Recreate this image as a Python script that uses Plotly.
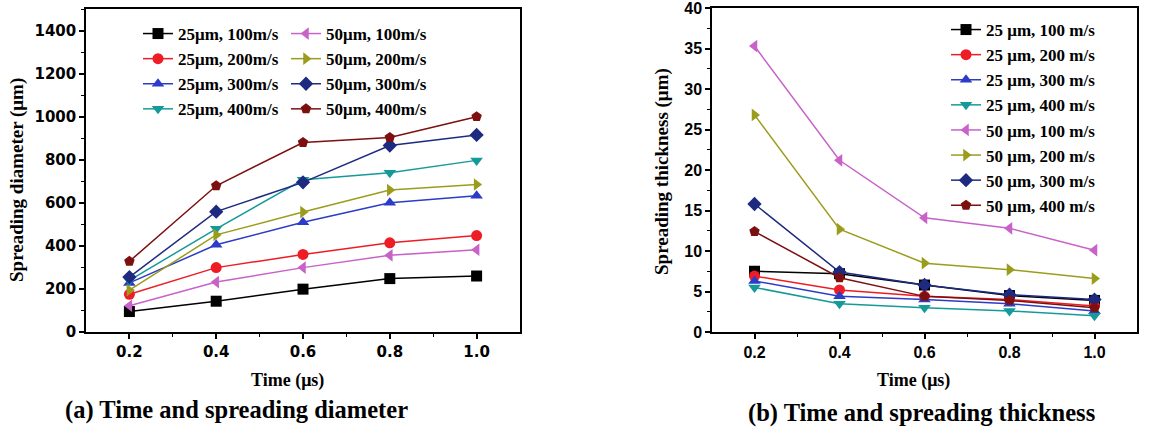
import plotly.graph_objects as go

time_us = [0.2, 0.4, 0.6, 0.8, 1.0]
time_labels = ["0.2", "0.4", "0.6", "0.8", "1.0"]

labels_a = ["25μm, 100m/s", "25μm, 200m/s", "25μm, 300m/s", "25μm, 400m/s",
            "50μm, 100m/s", "50μm, 200m/s", "50μm, 300m/s", "50μm, 400m/s"]
labels_b = ["25 μm, 100 m/s", "25 μm, 200 m/s", "25 μm, 300 m/s", "25 μm, 400 m/s",
            "50 μm, 100 m/s", "50 μm, 200 m/s", "50 μm, 300 m/s", "50 μm, 400 m/s"]

# (a) spreading diameter (μm)
diam_25_100 = [95, 143, 199, 248, 260]
diam_25_200 = [175, 299, 360, 414, 448]
diam_25_300 = [228, 405, 510, 600, 633]
diam_25_400 = [240, 479, 707, 740, 797]
diam_50_100 = [122, 232, 299, 356, 382]
diam_50_200 = [194, 451, 557, 659, 685]
diam_50_300 = [255, 559, 695, 866, 915]
diam_50_400 = [328, 679, 880, 903, 1000]

# (b) spreading thickness (μm)
thk_25_100 = [7.5, 7.2, 5.8, 4.5, 3.9]
thk_25_200 = [6.9, 5.2, 4.4, 4.0, 3.2]
thk_25_300 = [6.3, 4.4, 4.0, 3.5, 2.6]
thk_25_400 = [5.5, 3.5, 3.0, 2.6, 2.0]
thk_50_100 = [35.3, 21.2, 14.1, 12.8, 10.1]
thk_50_200 = [26.8, 12.7, 8.5, 7.7, 6.6]
thk_50_300 = [15.8, 7.4, 5.8, 4.6, 4.0]
thk_50_400 = [12.4, 6.7, 4.4, 3.9, 3.0]

diam_ticks = [0, 200, 400, 600, 800, 1000, 1200, 1400]
thk_ticks = [0, 5, 10, 15, 20, 25, 30, 35, 40]

diam = [diam_25_100, diam_25_200, diam_25_300, diam_25_400,
        diam_50_100, diam_50_200, diam_50_300, diam_50_400]
thk = [thk_25_100, thk_25_200, thk_25_300, thk_25_400,
       thk_50_100, thk_50_200, thk_50_300, thk_50_400]

colors = ["#000000", "#ee1c24", "#2a3cc8", "#159a9a", "#c862c8", "#9c9c1c", "#1e2a80", "#7c1010"]
symbols = ["square", "circle", "triangle-up", "triangle-down",
           "triangle-left", "triangle-right", "diamond", "pentagon"]

W, H = 1155, 434
def px(x):
    return x / W
def py(y):
    return 1 - y / H

serif = "Liberation Serif"

fig = go.Figure()

for i in range(8):
    fig.add_trace(go.Scatter(
        x=time_us, y=diam[i], name=labels_a[i], mode="lines+markers",
        line=dict(color=colors[i], width=1.5),
        marker=dict(symbol=symbols[i], size=11, color=colors[i]),
        xaxis="x", yaxis="y",
        legend="legend" if i < 4 else "legend2",
    ))
for i in range(8):
    fig.add_trace(go.Scatter(
        x=time_us, y=thk[i], name=labels_b[i], mode="lines+markers",
        line=dict(color=colors[i], width=1.5),
        marker=dict(symbol=symbols[i], size=11, color=colors[i]),
        xaxis="x2", yaxis="y2",
        legend="legend3",
    ))

line_common = dict(
    showline=True, linecolor="black", linewidth=1.5, mirror=True,
    ticks="outside", ticklen=5, tickwidth=1.5, tickcolor="black",
    showgrid=False, zeroline=False, ticklabeloverflow="allow", automargin=False,
)
minor_x = dict(tickvals=[0.3, 0.5, 0.7, 0.9], ticks="outside", ticklen=3, tickwidth=1.2, tickcolor="black")
minor_y = dict(ticks="outside", ticklen=3, tickwidth=1.2, tickcolor="black")

legend_common = dict(
    bgcolor="rgba(0,0,0,0)", borderwidth=0,
    font=dict(family=serif, size=17, color="black", weight="bold"),
    orientation="v", xanchor="left", yanchor="top",
    itemwidth=30, tracegroupgap=0,
)

fontA = dict(family="DejaVu Sans", size=15, color="black", weight="bold")
fontB = dict(family="Liberation Sans", size=16, color="black", weight="bold")

fig.update_layout(
    width=W, height=H,
    margin=dict(l=0, r=0, t=0, b=0, autoexpand=False),
    paper_bgcolor="white", plot_bgcolor="white",
    showlegend=True,
    xaxis=dict(domain=[px(86), px(520)], range=[0.1, 1.1], tickmode="array",
               tickvals=time_us, ticktext=time_labels, minor=minor_x,
               tickfont=fontA, anchor="y", **line_common),
    yaxis=dict(domain=[py(332), py(9)], range=[0, 1500], tickmode="array",
               tickvals=diam_ticks, minor=dict(dtick=100, **minor_y),
               tickfont=fontA, anchor="x", **line_common),
    xaxis2=dict(domain=[px(712), px(1137)], range=[0.1, 1.1], tickmode="array",
                tickvals=time_us, ticktext=time_labels, minor=minor_x,
                tickfont=fontB, anchor="y2", **line_common),
    yaxis2=dict(domain=[py(332), py(8)], range=[0, 40], tickmode="array",
                tickvals=thk_ticks, minor=dict(dtick=2.5, **minor_y),
                tickfont=fontB, anchor="x2", **line_common),
    legend=dict(x=px(138), y=py(16), **legend_common),
    legend2=dict(x=px(286), y=py(16), **legend_common),
    legend3=dict(x=px(946), y=py(12), **legend_common),
)

ann_font = dict(family=serif, size=19, color="black", weight="bold")
cap_font = dict(family=serif, size=24.5, color="black", weight="bold")
annotations = [
    dict(text="Spreading diameter (μm)", x=px(17), y=py(180), textangle=-90, font=ann_font),
    dict(text="Spreading thickness (μm)", x=px(662), y=py(172), textangle=-90, font=ann_font),
    dict(text="Time (μs)", x=px(287), y=py(380), font=dict(family=serif, size=18, color="black", weight="bold")),
    dict(text="Time (μs)", x=px(913), y=py(380), font=dict(family=serif, size=18, color="black", weight="bold")),
    dict(text="(a) Time and spreading diameter", x=px(236), y=py(410), font=cap_font),
    dict(text="(b) Time and spreading thickness", x=px(921), y=py(413), font=cap_font),
]
for a in annotations:
    fig.add_annotation(xref="paper", yref="paper", showarrow=False,
                       xanchor="center", yanchor="middle", **a)

fig.write_html("out.html")
